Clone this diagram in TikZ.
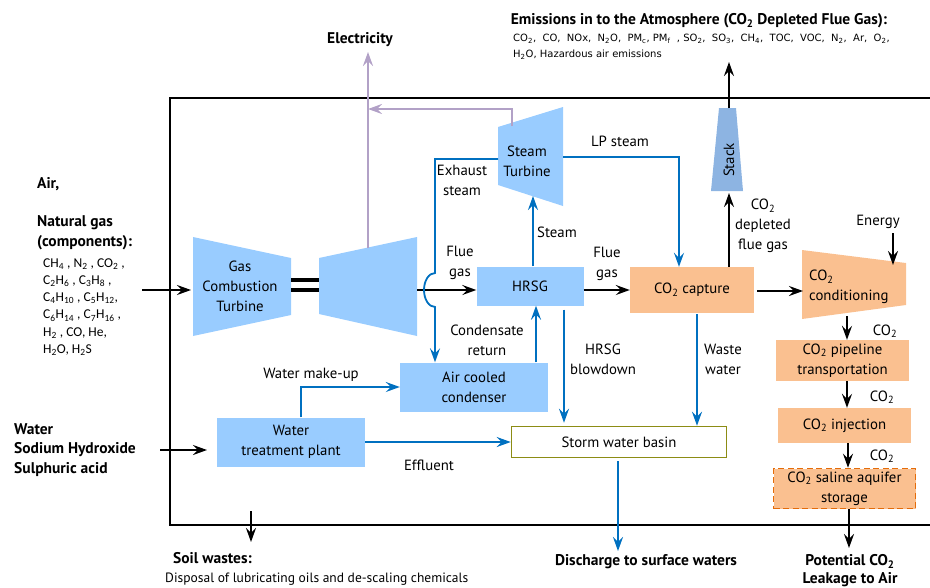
\documentclass[tikz,border=0pt]{standalone}
\usepackage{fontspec}
\setmainfont{PT Sans}
\newfontfamily\gasfont{Carlito}
\newfontfamily\emisfont{DejaVu Sans}
\usetikzlibrary{arrows.meta}

\definecolor{unitblue}{HTML}{99CCFF}
\definecolor{flowblue}{HTML}{0070C0}
\definecolor{ccsorange}{HTML}{FAC090}
\definecolor{stackblue}{HTML}{8DB4E2}
\definecolor{elecpurple}{HTML}{B2A1C7}
\definecolor{basinolive}{HTML}{8C8C14}
\definecolor{dashorange}{HTML}{E46C0A}

\newcommand{\COtwo}{CO\textsubscript{2}}
\newcommand{\dn}[1]{\textsubscript{#1}}
\newcommand{\lblsize}{\fontsize{14.8}{20}\selectfont}
\newcommand{\headsize}{\fontsize{15.5}{20}\selectfont\bfseries}

\begin{document}
\begin{tikzpicture}[x=1pt, y=-1pt,
  unit/.style={rectangle, fill=unitblue, inner sep=0pt, align=center, font=\lblsize},
  ccs/.style={rectangle, fill=ccsorange, inner sep=0pt, align=center, font=\lblsize},
  lbl/.style={align=center, font=\lblsize, inner sep=0pt},
  head/.style={align=center, font=\headsize, inner sep=0pt},
  flow/.style={draw=flowblue, line width=1.8pt, -{Stealth[length=14pt, width=10pt, inset=5pt]}},
  gas/.style={draw=black, line width=1.8pt, -{Stealth[length=14pt, width=10pt, inset=5pt]}},
  power/.style={draw=elecpurple, line width=2.2pt}]
  \useasboundingbox (0,0) rectangle (930,587);

  % Plant boundary
  \draw[line width=1.8pt] (930,98) -- (170,98) -- (170,525) -- (930,525);

  % Gas combustion turbine
  \coordinate (gct1) at (193,237);
  \coordinate (gct2) at (291,258);
  \coordinate (gct3) at (291,315);
  \coordinate (gct4) at (193,336);
  \fill[unitblue] (gct1) -- (gct2) -- (gct3) -- (gct4) -- cycle;
  \node[lbl] (gct) at (240,286) {Gas\\Combustion\\Turbine};

  % Power turbine
  \coordinate (pt1) at (319,258);
  \coordinate (pt2) at (417,237);
  \coordinate (pt3) at (417,336);
  \coordinate (pt4) at (319,314);
  \fill[unitblue] (pt1) -- (pt2) -- (pt3) -- (pt4) -- cycle;

  % Shaft
  \draw[line width=3.5pt] (291,280) -- (319,280);
  \draw[line width=3.5pt] (291,290) -- (319,290);

  % Steam turbine
  \coordinate (st1) at (498,127);
  \coordinate (st2) at (563,107);
  \coordinate (st3) at (563,206);
  \coordinate (st4) at (498,185);
  \fill[unitblue] (st1) -- (st2) -- (st3) -- (st4) -- cycle;
  \node[lbl] (st) at (527,161) {Steam\\Turbine};

  % Stack
  \fill[stackblue] (719,108) -- (736,108) -- (743,191) -- (711,191) -- cycle;
  \node[lbl, rotate=90] (stack) at (729,160) {Stack};

  % CO2 conditioning
  \fill[ccsorange] (802,250) -- (906,263) -- (906,305) -- (802,319) -- cycle;
  \node[lbl, anchor=west, align=left] (cond) at (809,287) {\COtwo\\conditioning};

  % Units
  \node[unit, minimum width=107pt, minimum height=39pt] (hrsg) at (530,286) {HRSG};
  \node[ccs, minimum width=124pt, minimum height=46pt] (capture) at (692,290) {\COtwo\ capture};
  \node[unit, minimum width=148pt, minimum height=49pt] (acc) at (474,387) {Air cooled\\condenser};
  \node[unit, minimum width=148pt, minimum height=49pt] (wtp) at (291,442) {Water\\treatment plant};
  \node[draw=basinolive, line width=1.5pt, fill=white, minimum width=215pt, minimum height=31pt,
        inner sep=0pt, font=\lblsize] (basin) at (619,442) {Storm water basin};
  \node[ccs, minimum width=133pt, minimum height=41pt] (pipe) at (842.5,360.5) {\COtwo\ pipeline\\transportation};
  \node[ccs, minimum width=133pt, minimum height=35pt] (inj) at (844.5,425.5) {\COtwo\ injection};
  \node[ccs, draw=dashorange, dash pattern=on 6pt off 3.5pt, line width=1.6pt, minimum width=142pt, minimum height=40pt]
        (store) at (844.5,488.5) {\COtwo\ saline aquifer\\storage};

  % Connector ends
  \coordinate (airin) at (142,290);
  \coordinate (gctin) at (191,290);
  \coordinate (ptout) at (417,290);
  \coordinate (elec) at (368,248);
  \coordinate (elecout) at (368,52);
  \coordinate (stgen) at (512,126);
  \coordinate (elecjoin) at (368,109);
  \coordinate (stex) at (498,159);
  \coordinate (bumptop) at (435,273);
  \coordinate (stlp) at (563,157);
  \coordinate (stbot) at (533,196);
  \coordinate (stackbot) at (729,193);
  \coordinate (stacktop) at (729,108);
  \coordinate (atm) at (729,62);
  \coordinate (condin) at (803,291);
  \coordinate (enin) at (893,233);
  \coordinate (enout) at (893,265);
  \coordinate (condout) at (847,316);
  \coordinate (leak) at (849,548);
  \coordinate (discharge) at (618,551);
  \coordinate (soilout) at (251,511);
  \coordinate (soil) at (251,542);
  \coordinate (waterin) at (160,450);
  \coordinate (wtpin) at (207,450);

  % Electricity
  \draw[power, -{Stealth[length=14pt, width=10pt, inset=5pt]}] (elec) -- (elecout);
  \draw[power, -{Stealth[length=14pt, width=10pt, inset=5pt]}] (stgen) |- (elecjoin);

  % Gas path
  \draw[gas] (airin) -- (gctin);
  \draw[gas] (ptout) -- (ptout -| hrsg.west);
  \draw[gas] (hrsg.east |- ptout) -- (capture.west |- ptout);
  \draw[gas] ([xshift=37pt]capture.north) -- (stackbot);
  \draw[gas] (stacktop) -- (atm);
  \draw[gas] ([xshift=3pt]capture.east |- condin) -- (condin);
  \draw[gas] (enin) -- (enout);
  \draw[gas] (condout) -- ([xshift=4.5pt]pipe.north);
  \draw[gas] ([xshift=4.5pt]pipe.south) -- ([xshift=2.5pt]inj.north);
  \draw[gas] ([xshift=3.5pt]inj.south) -- ([xshift=3.5pt]store.north);
  \draw[gas] ([xshift=4.5pt]store.south) -- (leak);
  \draw[gas] (soilout) -- (soil);
  \draw[gas] (waterin) -- (wtpin);

  % Water and steam
  \draw[flow] (stex) -| (bumptop) arc[start angle=270, end angle=90, x radius=11, y radius=17]
        -- (acc.north -| bumptop);
  \draw[flow] (stlp) -| ([xshift=-13pt]capture.north);
  \draw[flow] ([xshift=3pt]hrsg.north) -- (stbot);
  \draw[flow] ([xshift=62pt]acc.north) -- ([xshift=6pt]hrsg.south);
  \draw[flow] ([xshift=34pt, yshift=-4pt]hrsg.south) -- ([xshift=-55pt, yshift=3pt]basin.north);
  \draw[flow] ([xshift=5pt, yshift=-1pt]capture.south) -- ([xshift=78pt]basin.north);
  \draw[flow] ([xshift=-1pt, yshift=-3pt]basin.south) -- (discharge);
  \draw[flow] ([xshift=10pt]wtp.north) |- (acc.west);
  \draw[flow] (wtp.east) -- (basin.west);

  % Labels
  \node[head] (lelec) at (360,40) {Electricity};
  \node[head] (lemis) at (699,21) {Emissions in to the Atmosphere (\COtwo\ Depleted Flue Gas):};
  \node[anchor=west, align=left, inner sep=0pt, font=\emisfont\fontsize{10}{16}\selectfont] (lemlist) at (513,47)
        {\COtwo,\ \ CO,\ \ NOx,\ \ N\dn{2}O,\ \ PM\dn{c},\ PM\dn{f}\ \ ,\ SO\dn{2},\ \ SO\dn{3},\ \ CH\dn{4},\ \ TOC,\ \ VOC,\ \ N\dn{2},\ \ Ar,\ \ O\dn{2},\\
         H\dn{2}O, Hazardous air emissions};
  \node[head, anchor=west] (lair) at (37,184) {Air,};
  \node[head, anchor=west, align=left] (lng) at (37,233) {Natural gas\\(components):};
  \node[anchor=west, align=left, inner sep=0pt, font=\gasfont\fontsize{13.5}{17.2}\selectfont] (lnglist) at (43,307)
        {CH\dn{4}\ , N\dn{2}\ , CO\dn{2}\ ,\\ C\dn{2}H\dn{6}\ , C\dn{3}H\dn{8}\ ,\\ C\dn{4}H\dn{10}\ , C\dn{5}H\dn{12},\\
         C\dn{6}H\dn{14}\ , C\dn{7}H\dn{16}\ ,\\ H\dn{2}\ , CO, He,\\ H\dn{2}O, H\dn{2}S};
  \node[head, anchor=west, align=left, font=\fontsize{15.5}{19.5}\selectfont\bfseries] (lwater) at (14,450)
        {Water\\Sodium Hydroxide\\Sulphuric acid};
  \node[head, anchor=west] (lsoil) at (173,558) {Soil wastes:};
  \node[lbl, anchor=west, font=\fontsize{13.5}{15}\selectfont] (ldisp) at (165,579)
        {Disposal of lubricating oils and de-scaling chemicals};
  \node[head] (ldis) at (646,562) {Discharge to surface waters};
  \node[head, font=\fontsize{15.5}{18}\selectfont\bfseries] (lleak) at (850,571) {Potential \COtwo\\Leakage to Air};

  \node[lbl] (lexh) at (462,180) {Exhaust\\steam};
  \node[lbl] (llp) at (620,141) {LP steam};
  \node[lbl] (lflue) at (460,263) {Flue\\gas};
  \node[lbl] (lsteam) at (557,232) {Steam};
  \node[lbl] (lflue2) at (607,264) {Flue\\gas};
  \node[lbl] (ldep) at (763,226) {\COtwo\\depleted\\flue gas};
  \node[lbl] (lenergy) at (878,222) {Energy};
  \node[lbl] (lco2a) at (885,331) {\COtwo};
  \node[lbl] (lco2b) at (882,397) {\COtwo};
  \node[lbl] (lco2c) at (882,456) {\COtwo};
  \node[lbl] (lcond) at (487,340) {Condensate\\return};
  \node[lbl] (lblow) at (603,359) {HRSG\\blowdown};
  \node[lbl] (lwaste) at (723,359) {Waste\\water};
  \node[lbl] (lmake) at (311,375) {Water make-up};
  \node[lbl] (leff) at (429,465) {Effluent};
\end{tikzpicture}
\end{document}
